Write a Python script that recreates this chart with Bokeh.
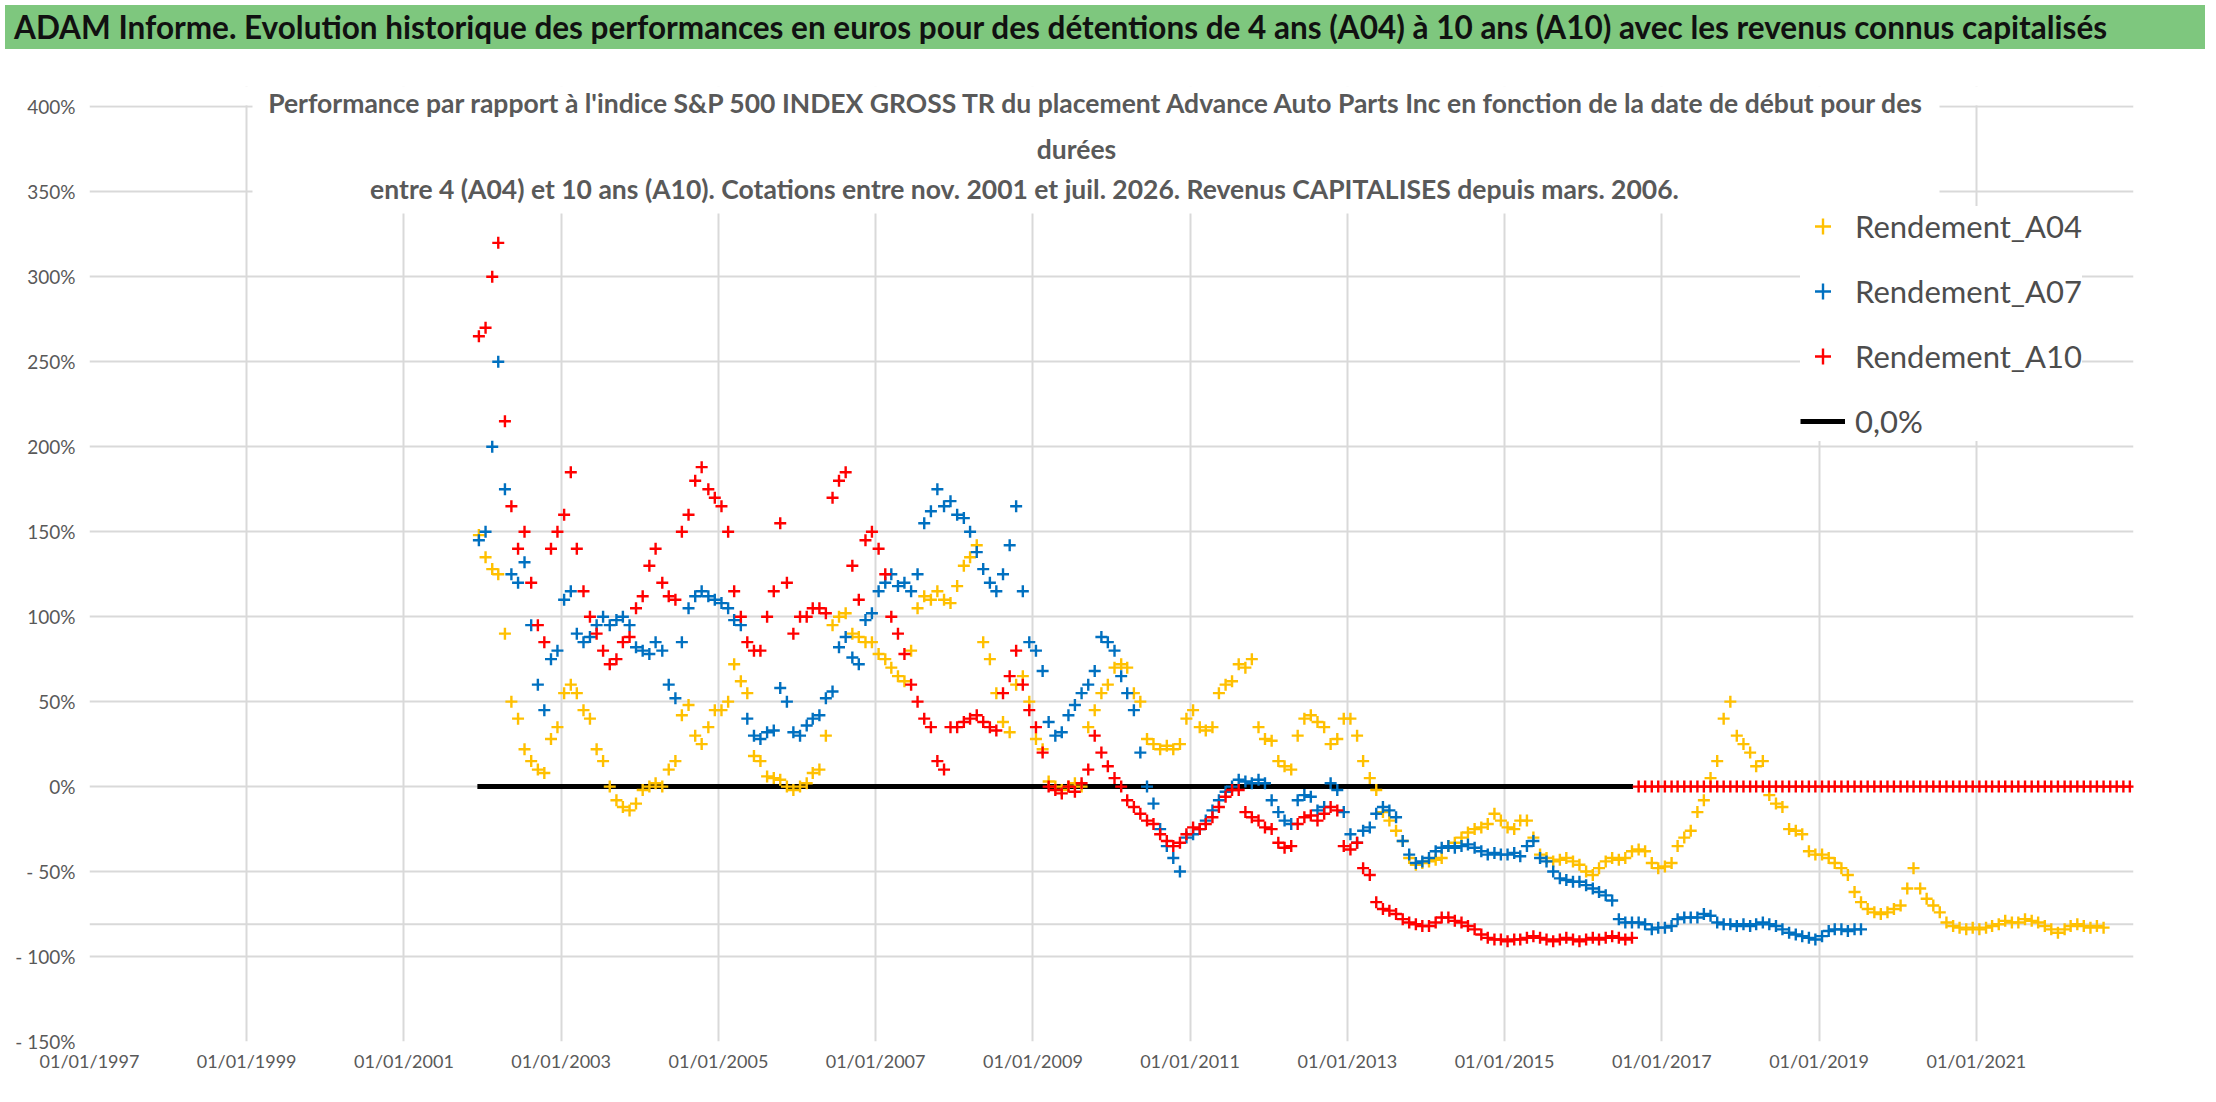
import pandas as pd
from bokeh.plotting import figure
from bokeh.layouts import column
from bokeh.models import (FixedTicker, DatetimeTickFormatter, Label, BoxAnnotation,
                          Legend, LegendItem, Span, Range1d, Div)
from bokeh.embed import file_html
from bokeh.resources import INLINE

banner_text = ("ADAM Informe. Evolution historique des performances en euros pour des "
               "détentions de 4 ans (A04) à 10 ans (A10) avec les revenus connus capitalisés")
subtitle_lines = [
    "Performance par rapport à l'indice S&P 500 INDEX GROSS TR  du placement Advance Auto Parts Inc "
    "en fonction de la date de début pour des",
    "durées",
    "entre 4 (A04) et 10 ans (A10). Cotations entre nov. 2001 et juil. 2026. "
    "Revenus CAPITALISES depuis mars. 2006.",
]

series_names = ["Rendement_A04", "Rendement_A07", "Rendement_A10"]
zero_name = "0,0%"

# monthly readings (%), first value = Dec 2001
series_start = "2001-12-01"

a04 = [148,
       135, 128, 125, 90, 50, 40, 22, 15, 10, 8, 28, 35,
       55, 60, 55, 45, 40, 22, 15, 0, -8, -12, -14, -10,
       -2, 0, 2, 0, 10, 15, 42, 48, 30, 25, 35, 45,
       45, 50, 72, 62, 55, 18, 15, 6, 5, 4, 0, -2,
       0, 2, 8, 10, 30, 95, 100, 102, 90, 88, 85, 85,
       78, 75, 70, 65, 62, 80, 105, 112, 110, 115, 110, 108,
       118, 130, 135, 142, 85, 75, 55, 38, 32, 60, 65, 50,
       28, 22, 3, 0, -2, 0, 2, 0, 35, 45, 55, 60,
       70, 72, 70, 55, 50, 28, 25, 22, 24, 22, 25, 40,
       45, 35, 33, 35, 55, 60, 62, 72, 70, 75, 35, 28,
       27, 15, 12, 10, 30, 40, 42, 38, 35, 25, 28, 40,
       40, 30, 15, 5, -2, -15, -20, -26, -32, -42, -46, -45,
       -44, -43, -42, -35, -33, -30, -27, -25, -24, -22, -16, -20,
       -24, -25, -20, -20, -30, -40, -42, -44, -43, -42, -44, -46,
       -50, -52, -48, -44, -42, -43, -42, -38, -37, -38, -45, -48,
       -47, -45, -35, -30, -26, -15, -8, 5, 15, 40, 50, 30,
       25, 20, 12, 15, -5, -10, -12, -25, -26, -28, -38, -40,
       -40, -42, -45, -48, -52, -62, -68, -72, -74, -75, -74, -72,
       -70, -60, -48, -60, -66, -70, -74, -80, -82, -83, -84, -83,
       -84, -83, -82, -81, -79, -80, -80, -78, -79, -80, -82, -84,
       -86, -84, -82, -81, -82, -83, -82, -83]

a07 = [145,
       150, 200, 250, 175, 125, 120, 132, 95, 60, 45, 75, 80,
       110, 115, 90, 85, 88, 95, 100, 95, 98, 100, 95, 82,
       80, 78, 85, 80, 60, 52, 85, 105, 112, 115, 112, 110,
       108, 105, 98, 95, 40, 30, 28, 32, 33, 58, 50, 32,
       30, 36, 40, 42, 52, 56, 82, 88, 76, 72, 98, 102,
       115, 120, 125, 118, 120, 115, 125, 155, 162, 175, 165, 168,
       160, 158, 150, 138, 128, 120, 115, 125, 142, 165, 115, 85,
       80, 68, 38, 30, 32, 42, 48, 55, 60, 68, 88, 85,
       80, 65, 55, 45, 20, 0, -10, -25, -35, -42, -50, -30,
       -28, -25, -20, -14, -8, -3, 0, 4, 3, 2, 4, 2,
       -8, -15, -20, -22, -8, -5, -6, -14, -12, 2, -2, -15,
       -28, -33, -26, -24, -16, -12, -14, -18, -32, -40, -45, -44,
       -42, -38, -36, -35, -36, -35, -34, -36, -38, -40, -39, -40,
       -40, -39, -41, -35, -32, -42, -44, -50, -54, -55, -56, -56,
       -58, -60, -62, -64, -67, -78, -80, -80, -80, -81, -84, -83,
       -83, -82, -78, -77, -77, -77, -75, -76, -80, -81, -81, -82,
       -81, -82, -81, -80, -81, -82, -84, -86, -87, -88, -89, -90,
       -88, -85, -84, -84, -85, -84, -84]

a10 = [265,
       270, 300, 320, 215, 165, 140, 150, 120, 95, 85, 140, 150,
       160, 185, 140, 115, 100, 90, 80, 72, 75, 85, 88, 105,
       112, 130, 140, 120, 112, 110, 150, 160, 180, 188, 175, 170,
       165, 150, 115, 100, 85, 80, 80, 100, 115, 155, 120, 90,
       100, 100, 105, 105, 102, 170, 180, 185, 130, 110, 145, 150,
       140, 125, 100, 90, 78, 60, 50, 40, 35, 15, 10, 35,
       35, 38, 40, 42, 38, 35, 33, 55, 65, 80, 60, 45,
       35, 20, 0, -2, -4, 0, -3, 2, 10, 30, 20, 12,
       5, 0, -8, -12, -16, -20, -22, -28, -32, -35, -33, -28,
       -24, -25, -22, -18, -12, -6, -2, -2, -15, -18, -20, -24,
       -25, -33, -36, -35, -22, -18, -17, -20, -16, -12, -14, -35,
       -37, -33, -48, -52, -68, -72, -73, -75, -78, -80, -81, -82,
       -82, -80, -77, -77, -79, -80, -82, -84, -87, -89, -90, -90,
       -91, -90, -90, -89, -88, -89, -90, -91, -90, -89, -90, -91,
       -90, -89, -90, -89, -88, -89, -90, -89,
       0, 0, 0, 0,
       0, 0, 0, 0, 0, 0, 0, 0, 0, 0, 0, 0,
       0, 0, 0, 0, 0, 0, 0, 0, 0, 0, 0, 0,
       0, 0, 0, 0, 0, 0, 0, 0, 0, 0, 0, 0,
       0, 0, 0, 0, 0, 0, 0, 0, 0, 0, 0, 0,
       0, 0, 0, 0, 0, 0, 0, 0, 0, 0, 0, 0,
       0, 0, 0, 0, 0, 0, 0, 0, 0, 0, 0, 0]

zero_x = ["2001-12-08", "2016-08-20"]
zero_y = [0, 0]
floor_level = -81

x_tick_dates = ["1997-01-01", "1999-01-01", "2001-01-01", "2003-01-01", "2005-01-01",
                "2007-01-01", "2009-01-01", "2011-01-01", "2013-01-01", "2015-01-01",
                "2017-01-01", "2019-01-01", "2021-01-01"]
y_ticks = [-150, -100, -50, 0, 50, 100, 150, 200, 250, 300, 350, 400]
y_tick_labels = ["- 150%", "- 100%", "- 50%", "0%", "50%", "100%", "150%",
                 "200%", "250%", "300%", "350%", "400%"]

colors = ["#FFC000", "#0070C0", "#FF0000"]
GRAY = "#595959"
FONT = "Lato"


def monthly(values):
    return pd.date_range(series_start, periods=len(values), freq="MS") + pd.Timedelta(days=14)


# green banner
banner = Div(text=banner_text, width=2200, height=44,
             styles={"background-color": "#7EC77E", "color": "#111111",
                     "font-family": FONT, "font-weight": "bold", "font-size": "31.5px",
                     "line-height": "44px", "padding-left": "9px", "white-space": "nowrap",
                     "overflow": "hidden", "box-sizing": "border-box"})

p = figure(width=2200, height=1027, toolbar_location=None, output_backend="svg",
           x_axis_type="datetime",
           x_range=Range1d(pd.Timestamp("1997-01-01"), pd.Timestamp("2023-01-01")),
           y_range=Range1d(-150, 412),
           min_border_left=89, min_border_right=67, min_border_top=32, min_border_bottom=40)
p.outline_line_color = None
p.background_fill_color = "white"

p.xaxis.ticker = FixedTicker(ticks=[pd.Timestamp(d).value / 1e6 for d in x_tick_dates])
p.xaxis.formatter = DatetimeTickFormatter(days="%d/%m/%Y", months="%d/%m/%Y", years="%d/%m/%Y")
p.yaxis.ticker = FixedTicker(ticks=y_ticks)
p.yaxis.major_label_overrides = dict(zip(y_ticks, y_tick_labels))
for ax in (p.xaxis, p.yaxis):
    ax.axis_line_color = None
    ax.major_tick_line_color = None
    ax.minor_tick_line_color = None
    ax.major_tick_out = 0
    ax.major_tick_in = 0
    ax.major_label_text_color = GRAY
    ax.major_label_text_font = FONT
p.xaxis.major_label_text_font_size = "18px"
p.xaxis.major_label_standoff = 8
p.yaxis.major_label_text_font_size = "19px"
p.yaxis.major_label_standoff = 14
p.grid.grid_line_color = "#D9D9D9"
p.grid.grid_line_width = 2

p.add_layout(Span(location=floor_level, dimension="width", line_color="#D9D9D9",
                  line_width=2, level="underlay"))

r_zero = p.line(pd.to_datetime(zero_x), zero_y, line_color="black", line_width=5)
renderers = []
for vals, col in zip([a04, a07, a10], colors):
    r = p.scatter(monthly(vals), vals, marker="cross", size=12, line_width=2.4, color=col)
    renderers.append(r)

# blank strip above the 400% grid line, then the white box behind the chart title
p.add_layout(BoxAnnotation(bottom=401, fill_color="white", fill_alpha=1, line_color=None))
p.add_layout(BoxAnnotation(left=252, right=1939, top=30, bottom=159,
                           left_units="canvas", right_units="canvas",
                           top_units="canvas", bottom_units="canvas",
                           fill_color="white", fill_alpha=1, line_color=None))
for txt, cx, cy in zip(subtitle_lines, [1100, 1076, 1024], [48, 94, 134]):
    p.add_layout(Label(x=cx, y=cy, x_units="canvas", y_units="canvas", text=txt,
                       text_font=FONT, text_font_style="bold", text_font_size="26.5px",
                       text_color=GRAY, text_align="center", text_baseline="middle"))

legend = Legend(items=[LegendItem(label=n, renderers=[r]) for n, r in zip(series_names, renderers)]
                + [LegendItem(label=zero_name, renderers=[r_zero])],
                location=(1711, 600), margin=0, padding=10, spacing=25,
                glyph_width=45, glyph_height=40, label_height=40, label_standoff=10,
                label_text_font=FONT, label_text_font_size="31px", label_text_color="#4D4D4D",
                background_fill_color="white", background_fill_alpha=1,
                border_line_color=None)
p.add_layout(legend)

page = column(banner, p, spacing=0)
open("out.html", "w").write(file_html(page, INLINE))
